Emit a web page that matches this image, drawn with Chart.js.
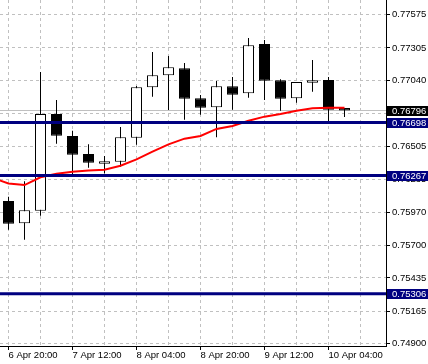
<!DOCTYPE html>
<html lang="en">
<head>
<meta charset="UTF-8" />
<title>H4 chart</title>
<script src="https://cdn.jsdelivr.net/npm/chart.js"></script>
<style>
  * { margin: 0; padding: 0; box-sizing: border-box; }
  body { background: #ffffff; width: 428px; height: 364px; overflow: hidden; }
  canvas { display: block; }
</style>
</head>
<body>
<canvas id="chart" width="428" height="364"></canvas>
<script>
// 4h candles, first visible one is 6 Apr 20:00
var open  = [0.76060, 0.75879, 0.75981, 0.76768, 0.76589, 0.76442, 0.76364, 0.76380, 0.76575, 0.76985, 0.77082,
             0.77139, 0.76895, 0.76822, 0.76993, 0.76936, 0.77337, 0.77042, 0.76895, 0.77022, 0.77044, 0.76816];
var high  = [0.76095, 0.76220, 0.77109, 0.76881, 0.76632, 0.76521, 0.76426, 0.76662, 0.76995, 0.77272, 0.77239,
             0.77182, 0.76922, 0.77036, 0.77068, 0.77386, 0.77369, 0.77050, 0.77028, 0.77207, 0.77068, 0.76816];
var low   = [0.75827, 0.75746, 0.75941, 0.76526, 0.76272, 0.76331, 0.76284, 0.76339, 0.76518, 0.76908, 0.76800,
             0.76721, 0.76762, 0.76578, 0.76803, 0.76900, 0.76881, 0.76794, 0.76860, 0.76949, 0.76711, 0.76743];
var close = [0.75876, 0.75985, 0.76768, 0.76591, 0.76437, 0.76372, 0.76383, 0.76578, 0.76985, 0.77082, 0.77147,
             0.76892, 0.76819, 0.76993, 0.76925, 0.77326, 0.77038, 0.76892, 0.77028, 0.77042, 0.76803, 0.76796];

// moving average, starts one bar before the first visible candle
var maValues = [0.76247, 0.76203, 0.76190, 0.76253, 0.76282, 0.76298, 0.76308, 0.76315, 0.76347, 0.76399, 0.76461,
                0.76521, 0.76567, 0.76589, 0.76646, 0.76670, 0.76713, 0.76746, 0.76768, 0.76794, 0.76814, 0.76819, 0.76819];

// time axis labels and the bar they sit on
var timeLabels = ["6 Apr 20:00", "7 Apr 12:00", "8 Apr 04:00", "8 Apr 20:00", "9 Apr 12:00", "10 Apr 04:00"];
var timeLabelBars = [0, 4, 8, 12, 16, 20];

// price axis
var priceTicks = [0.77575, 0.77305, 0.77040, 0.76770, 0.76505, 0.76235, 0.75970, 0.75700, 0.75435, 0.75165, 0.74900];
var hiddenPriceTicks = [0.76770];

// horizontal levels and last price
var levels = [0.76698, 0.76267, 0.75306];
var lastPrice = 0.76796;

// view range
var xMin = -0.53125, xMax = 23.59375;
var yMin = 0.748812, yMax = 0.776945;

var labelFont = { family: "'Liberation Sans', Arial, sans-serif", size: 9.5 };

var bars = open.map(function (o, i) { return i; });
var wickData = bars.map(function (i) { return { x: i, y: [low[i], high[i]] }; });
var bodyData = bars.map(function (i) {
  return { x: i, y: [Math.min(open[i], close[i]), Math.max(open[i], close[i])] };
});
var bodyColors = bars.map(function (i) { return close[i] >= open[i] ? "#ffffff" : "#000000"; });
var maData = maValues.map(function (v, k) { return { x: k - 1, y: v }; });

var gridBars = [];
for (var g = 0; g <= 22; g += 2) gridBars.push(g);

function hline(v, color, width, order) {
  return {
    type: "line",
    data: [{ x: xMin, y: v }, { x: xMax, y: v }],
    borderColor: color,
    borderWidth: width,
    pointRadius: 0,
    order: order,
  };
}

var datasets = [];
levels.forEach(function (v) { datasets.push(hline(v, "#000080", 3, 0)); });
datasets.push({
  type: "line",
  data: maData,
  borderColor: "#ff0000",
  borderWidth: 2,
  pointRadius: 0,
  tension: 0,
  order: 1,
});
datasets.push({
  type: "bar",
  data: bodyData,
  backgroundColor: bodyColors,
  borderColor: "#000000",
  borderWidth: 1,
  borderSkipped: false,
  barThickness: 11,
  grouped: false,
  inflateAmount: 0,
  order: 2,
});
datasets.push({
  type: "bar",
  data: wickData,
  backgroundColor: "#000000",
  borderWidth: 0,
  barThickness: 1,
  grouped: false,
  inflateAmount: 0,
  order: 3,
});
datasets.push(hline(lastPrice, "#c0c0c0", 1, 4));

// coloured price boxes on the right axis
var priceBoxes = {
  id: "priceBoxes",
  afterDraw: function (chart) {
    var ctx = chart.ctx;
    var y = chart.scales.y;
    var left = chart.chartArea.right + 1;
    function box(v, bg) {
      var py = y.getPixelForValue(v);
      ctx.save();
      ctx.fillStyle = bg;
      ctx.fillRect(left, Math.round(py) - 5, chart.width - left, 10);
      ctx.fillStyle = "#ffffff";
      ctx.font = labelFont.size + "px " + labelFont.family;
      ctx.textBaseline = "middle";
      ctx.textAlign = "left";
      ctx.fillText(v.toFixed(5), left + 5, Math.round(py));
      ctx.restore();
    }
    box(lastPrice, "#000000");
    levels.forEach(function (v) { box(v, "#000080"); });
  },
};

new Chart(document.getElementById("chart"), {
  type: "bar",
  data: { datasets: datasets },
  plugins: [priceBoxes],
  options: {
    responsive: false,
    animation: false,
    devicePixelRatio: 1,
    layout: { padding: 0 },
    plugins: { legend: { display: false }, tooltip: { enabled: false } },
    scales: {
      x: {
        type: "linear",
        position: "bottom",
        min: xMin,
        max: xMax,
        offset: false,
        afterBuildTicks: function (scale) {
          scale.ticks = gridBars.map(function (v) { return { value: v }; });
        },
        afterFit: function (scale) {
          scale.height = 18;
          scale.paddingLeft = 0;
          scale.paddingRight = 0;
        },
        grid: {
          offset: false,
          color: "#c0c0c0",
          lineWidth: 1,
          tickLength: 4,
          tickColor: function (c) {
            return c.tick && timeLabelBars.indexOf(c.tick.value) >= 0 ? "#000000" : "rgba(0,0,0,0)";
          },
        },
        border: { color: "#000000", width: 1, dash: [3, 3] },
        ticks: {
          autoSkip: false,
          maxRotation: 0,
          minRotation: 0,
          align: "start",
          padding: 0,
          color: "#000000",
          font: labelFont,
          callback: function (v) {
            var k = timeLabelBars.indexOf(v);
            return k < 0 ? "" : timeLabels[k];
          },
        },
      },
      y: {
        type: "linear",
        position: "right",
        min: yMin,
        max: yMax,
        afterBuildTicks: function (scale) {
          scale.ticks = priceTicks.map(function (v) { return { value: v }; });
        },
        afterFit: function (scale) {
          scale.width = 42;
          scale.paddingTop = 0;
          scale.paddingBottom = 0;
        },
        grid: { color: "#c0c0c0", lineWidth: 1, tickLength: 4, tickColor: "#000000" },
        border: { color: "#000000", width: 1, dash: [3, 3] },
        ticks: {
          autoSkip: false,
          padding: 2,
          color: "#000000",
          font: labelFont,
          callback: function (v) {
            return hiddenPriceTicks.indexOf(v) >= 0 ? "" : v.toFixed(5);
          },
        },
      },
    },
  },
});
</script>
</body>
</html>
